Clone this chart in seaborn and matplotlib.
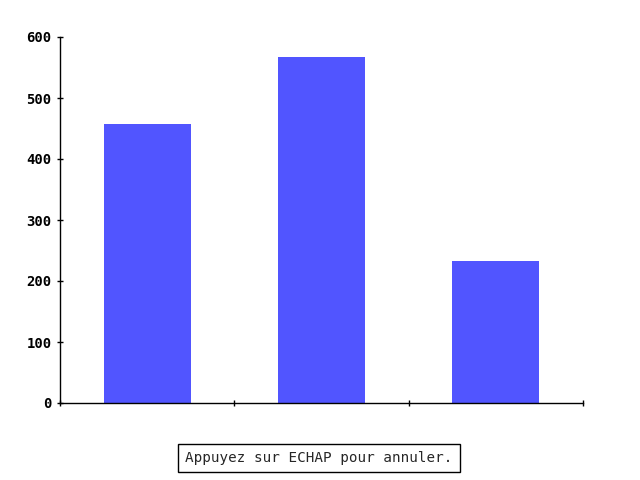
import matplotlib
matplotlib.use("Agg")
import matplotlib.pyplot as plt
import seaborn as sns
import pandas as pd

categories = ["A", "B", "C"]
values = [457, 567, 232]
y_ticks = [0, 100, 200, 300, 400, 500, 600]
message = "Appuyez sur ECHAP pour annuler."

sns.set_style("white")
plt.rcParams['font.family'] = ['DejaVu Sans Mono']

df = pd.DataFrame({"cat": categories, "val": values})

fig = plt.figure(figsize=(6.4, 4.8), dpi=100)
ax = fig.add_axes([60 / 640, 77 / 480, 523 / 640, 366 / 480])

sns.barplot(data=df, x="cat", y="val", color="#5155ff", saturation=1,
            width=0.5, linewidth=0, edgecolor="none", ax=ax)

ax.set_xlim(-0.5, len(categories) - 0.5)
ax.set_ylim(0, 600)
ax.set_xticks([i - 0.5 for i in range(len(categories) + 1)])
ax.set_xticklabels([])
ax.set_yticks(y_ticks)
ax.set_yticklabels([str(t) for t in y_ticks], fontsize=10, fontweight="bold")
ax.tick_params(axis="both", direction="inout", length=5, width=1,
               colors="black", left=True, bottom=True)
ax.set_xlabel("")
ax.set_ylabel("")

for side in ["top", "right"]:
    ax.spines[side].set_visible(False)
for side in ["left", "bottom"]:
    ax.spines[side].set_color("black")
    ax.spines[side].set_linewidth(1)

fig.text(319 / 640, 1 - 458 / 480, message, ha="center", va="center",
         fontsize=10.3,
         bbox=dict(boxstyle="square,pad=0.5", facecolor="white",
                   edgecolor="black", linewidth=1))

fig.savefig("out.png", dpi=100)
